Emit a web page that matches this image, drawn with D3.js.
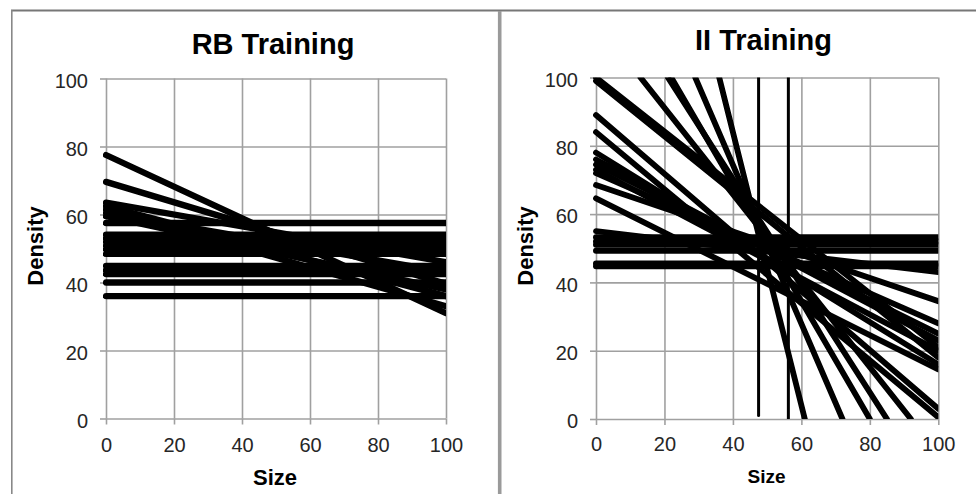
<!DOCTYPE html>
<html>
<head>
<meta charset="utf-8">
<script src="https://cdn.jsdelivr.net/npm/d3@7"></script>
<style>
body { margin: 0; background: #fff; }
svg text { font-family: "Liberation Sans", Arial, sans-serif; }
</style>
</head>
<body>
<div id="chart"></div>
<script>
// tick values, same on both axes of both panels
var ticks = [0, 20, 40, 60, 80, 100];

// RB training: flat bounds (density only)
var rbFlat = [57.5, 54.1, 53.1, 52, 50.9, 49.8, 48.4, 44.9, 43.7, 42.5, 40, 36];
// RB training: sloped bounds, density at size 0 and at size 100
var rbSloped = [[77.5, 31], [69.6, 39.6], [63.5, 46], [62.5, 36], [61.5, 33], [60.5, 43], [59.5, 38]];

// II training: flat bounds
var iiFlat = [53.2, 52, 51, 49.3, 45.5, 44.7];
// II training: sloped bounds, density at size 0 and at size 100
var iiSloped = [[100, 21], [99, 18], [89, 3], [84, 0.5], [78, 16], [76, 23], [74.5, 25],
                [73, 20], [72, 28], [68.5, 34.5], [64.6, 14.5], [55, 43]];
// II training: steep bounds, size where they cross density 100 and density 0
var iiSteep = [[36, 61], [29, 72], [22, 80], [21, 85], [13, 92]];
// II training: vertical bounds, size and lowest density reached
var iiVertical = [[47.5, 1], [56.2, 0]];

var width = 976, height = 494;

var svg = d3.select("#chart")
    .append("svg")
    .attr("width", width)
    .attr("height", height);

// outer frames of the two figures
svg.append("line").attr("x1", 11).attr("x2", width).attr("y1", 10.5).attr("y2", 10.5)
    .attr("stroke", "#777").attr("stroke-width", 1.8);
svg.append("line").attr("x1", 11.8).attr("x2", 11.8).attr("y1", 10).attr("y2", height)
    .attr("stroke", "#888").attr("stroke-width", 1.6);
svg.append("line").attr("x1", 499.7).attr("x2", 499.7).attr("y1", 11).attr("y2", height)
    .attr("stroke", "#9a9a9a").attr("stroke-width", 3.6);

function drawPanel(p) {
    var x = d3.scaleLinear().domain([0, 100]).range([p.x0, p.x1]);
    var y = d3.scaleLinear().domain([0, 100]).range([p.y0, p.y1]);
    var w = p.x1 - p.x0;
    var g = svg.append("g");

    // grid lines
    g.append("g")
        .attr("transform", "translate(" + p.x0 + ",0)")
        .call(d3.axisLeft(y).tickValues(ticks).tickSize(-w).tickFormat(""))
        .call(a => a.select(".domain").remove());
    g.append("g")
        .attr("transform", "translate(0," + p.y0 + ")")
        .call(d3.axisBottom(x).tickValues(ticks).tickSize(-(p.y0 - p.y1)).tickFormat(""))
        .call(a => a.select(".domain").remove());

    // outward ticks and labels
    var ya = g.append("g")
        .attr("transform", "translate(" + p.x0 + ",0)")
        .call(d3.axisLeft(y).tickValues(ticks).tickSize(6).tickPadding(12));
    var xa = g.append("g")
        .attr("transform", "translate(0," + p.y0 + ")")
        .call(d3.axisBottom(x).tickValues(ticks).tickSize(6).tickPadding(p.xPad));
    ya.select(".domain").remove();
    xa.select(".domain").remove();
    ya.selectAll("text").attr("dy", "0.43em");
    g.selectAll(".tick line").attr("stroke", "#a0a0a0").attr("stroke-width", 1.6);
    g.selectAll(".tick text")
        .attr("font-family", "Liberation Sans, Arial, sans-serif")
        .attr("font-size", 20)
        .attr("fill", "#262626");

    // clip the bounds to the plot area
    g.append("clipPath").attr("id", p.id)
        .append("rect")
        .attr("x", p.x0 - 3).attr("y", p.y1)
        .attr("width", w + 3).attr("height", p.y0 - p.y1);

    var lines = g.append("g").attr("clip-path", "url(#" + p.id + ")");
    lines.selectAll("line")
        .data(p.segments)
        .enter().append("line")
        .attr("x1", d => x(d[0][0]))
        .attr("y1", d => y(d[0][1]))
        .attr("x2", d => x(d[1][0]))
        .attr("y2", d => y(d[1][1]))
        .attr("stroke", "#000")
        .attr("stroke-width", d => d[2])
        .attr("stroke-linecap", "round");

    // titles
    g.append("text")
        .attr("x", p.titleX).attr("y", p.titleY)
        .attr("text-anchor", "middle")
        .attr("font-size", 29).attr("font-weight", "bold")
        .text(p.title);
    g.append("text")
        .attr("x", p.sizeX).attr("y", p.sizeY)
        .attr("text-anchor", "middle")
        .attr("font-size", p.sizeFont).attr("font-weight", "bold")
        .text("Size");
    g.append("text")
        .attr("transform", "translate(" + p.densX + ",246) rotate(-90)")
        .attr("text-anchor", "middle")
        .attr("font-size", 22).attr("font-weight", "bold")
        .text("Density");
}

var rbSegments = rbFlat.map(v => [[0, v], [100, v], 6.3])
    .concat(rbSloped.map(d => [[0, d[0]], [100, d[1]], 6.3]));

var iiSegments = iiFlat.map(v => [[0, v], [100, v], 6])
    .concat(iiSloped.map(d => [[0, d[0]], [100, d[1]], 5.8]))
    .concat(iiSteep.map(d => [[d[0], 100], [d[1], 0], 5.8]))
    .concat(iiVertical.map(d => [[d[0], 100], [d[0], d[1]], 3]));

drawPanel({
    id: "clipRB", segments: rbSegments,
    x0: 106, x1: 446, y0: 418.5, y1: 78.5, xPad: 13,
    title: "RB Training", titleX: 273, titleY: 54,
    sizeX: 275, sizeY: 485, sizeFont: 22, densX: 43
});

drawPanel({
    id: "clipII", segments: iiSegments,
    x0: 596, x1: 938.3, y0: 419, y1: 77.5, xPad: 12,
    title: "II Training", titleX: 763.5, titleY: 49.5,
    sizeX: 766.5, sizeY: 483, sizeFont: 19, densX: 533
});
</script>
</body>
</html>
